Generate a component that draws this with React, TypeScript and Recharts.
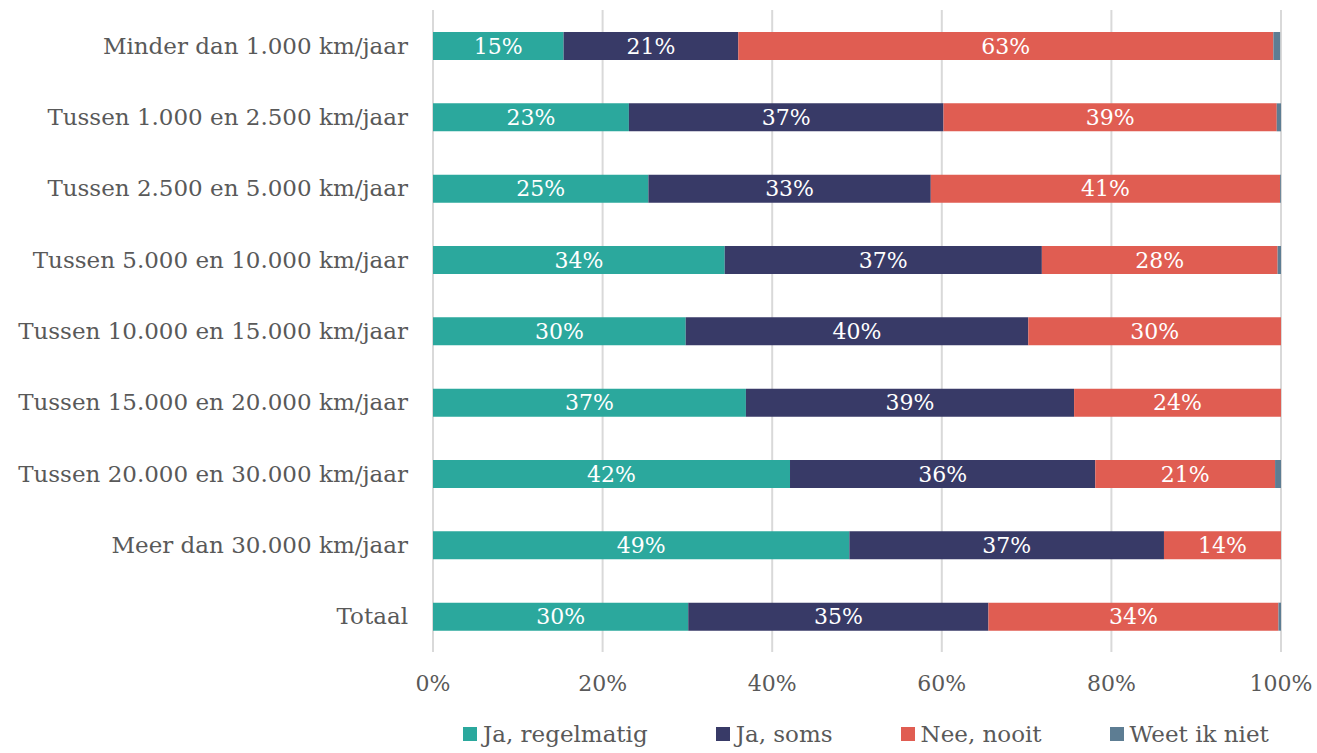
import { Bar, BarChart, CartesianGrid, LabelList, Legend, XAxis, YAxis } from "recharts";

const categories = [
  "Minder dan 1.000 km/jaar",
  "Tussen 1.000 en 2.500 km/jaar",
  "Tussen 2.500 en 5.000 km/jaar",
  "Tussen 5.000 en 10.000 km/jaar",
  "Tussen 10.000 en 15.000 km/jaar",
  "Tussen 15.000 en 20.000 km/jaar",
  "Tussen 20.000 en 30.000 km/jaar",
  "Meer dan 30.000 km/jaar",
  "Totaal",
];

const regelmatig = [15.4, 23.1, 25.4, 34.4, 29.8, 36.9, 42.1, 49.1, 30.1];
const soms = [20.6, 37.1, 33.3, 37.4, 40.4, 38.7, 36.0, 37.1, 35.4];
const nooit = [63.1, 39.3, 41.2, 27.8, 29.8, 24.4, 21.2, 13.8, 34.2];
const weetNiet = [0.8, 0.5, 0.1, 0.4, 0, 0, 0.7, 0, 0.3];

const xTicks = [0, 20, 40, 60, 80, 100];

const SERIES = [
  { key: "regelmatig", name: "Ja, regelmatig", color: "#2ba89d", label: true },
  { key: "soms", name: "Ja, soms", color: "#383a67", label: true },
  { key: "nooit", name: "Nee, nooit", color: "#e05d52", label: true },
  { key: "weetNiet", name: "Weet ik niet", color: "#5d7d93", label: false },
];

const FONT = "'DejaVu Serif', serif";
const TEXT = "#595959";

const data = categories.map((name, i) => ({
  name,
  regelmatig: regelmatig[i],
  soms: soms[i],
  nooit: nooit[i],
  weetNiet: weetNiet[i],
}));

function LegendContent() {
  return (
    <div style={{ display: "flex", justifyContent: "flex-start", gap: 68, fontFamily: FONT, fontSize: 23, color: TEXT, paddingLeft: 463 }}>
      {SERIES.map((s) => (
        <div key={s.key} style={{ display: "flex", alignItems: "center", gap: 6, whiteSpace: "nowrap" }}>
          <span style={{ width: 14, height: 14, background: s.color, display: "inline-block" }} />
          <span>{s.name}</span>
        </div>
      ))}
    </div>
  );
}

export default function App() {
  return (
    <div style={{ position: "absolute", left: 0, top: 0, background: "#fff" }}>
      <BarChart
        width={1317}
        height={753}
        data={data}
        layout="vertical"
        barSize={28}
        margin={{ top: 10, right: 36, left: 0, bottom: 0 }}
      >
        <CartesianGrid horizontal={false} stroke="#d9d9d9" strokeWidth={2} />
        <XAxis
          type="number"
          domain={[0, 100]}
          ticks={xTicks}
          tickFormatter={(v: number) => `${v}%`}
          axisLine={false}
          tickLine={false}
          tickMargin={17}
          height={69}
          tick={{ fill: TEXT, fontSize: 22, fontFamily: FONT }}
        />
        <YAxis
          type="category"
          dataKey="name"
          width={433}
          axisLine={false}
          tickLine={false}
          tickMargin={19}
          interval={0}
          tick={{ fill: TEXT, fontSize: 23, fontFamily: FONT }}
        />
        <Legend verticalAlign="bottom" height={32} content={<LegendContent />} />
        {SERIES.map((s) => (
          <Bar key={s.key} dataKey={s.key} name={s.name} stackId="a" fill={s.color} isAnimationActive={false}>
            {s.label && (
              <LabelList
                dataKey={s.key}
                position="center"
                formatter={(v: number) => `${Math.round(v)}%`}
                style={{ fill: "#fff", fontSize: 22, fontFamily: FONT }}
              />
            )}
          </Bar>
        ))}
      </BarChart>
    </div>
  );
}
